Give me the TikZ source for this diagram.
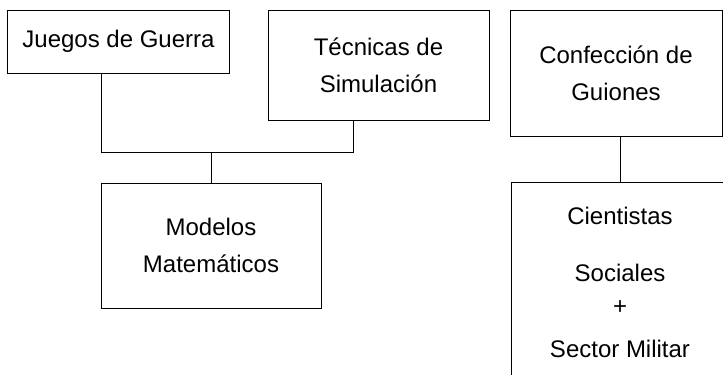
\documentclass[tikz,border=0pt]{standalone}
\usepackage{fontspec}
\setmainfont{Liberation Sans}
\begin{document}
\begin{tikzpicture}[x=1bp,y=-1bp,
  box/.style={draw,rectangle,line width=1bp,inner sep=0pt,align=center,
    font=\fontsize{24bp}{37bp}\selectfont},
  link/.style={line width=1bp}]
\path[use as bounding box,clip] (0,0) rectangle (723,374);
\node (juegos) at (118.5,41.5) [box,minimum width=221bp,minimum height=63bp]{Juegos de Guerra};
\node (tecnicas) at (378.5,65) [box,minimum width=221bp,minimum height=110bp]{Técnicas de\\Simulación};
\node (confeccion) at (616,73) [box,minimum width=212bp,minimum height=126bp]{Confección de\\Guiones};
\node (modelos) at (211,245.5) [box,minimum width=220bp,minimum height=125bp]{Modelos\\Matemáticos};
\node (cientistas) at (620,282) [box,minimum width=218bp,minimum height=200bp]{Cientistas\\[20bp]Sociales\\[-4bp]+\\[6bp]Sector Militar};
\coordinate (busw) at (101,152);
\coordinate (buse) at (353,152);
\draw[link] (juegos.south -| busw) -- (busw) -- (buse) -- (tecnicas.south -| buse);
\draw[link] (busw -| modelos.north) -- (modelos.north);
\draw[link] (confeccion.south -| cientistas.north) -- (cientistas.north);
\end{tikzpicture}
\end{document}
